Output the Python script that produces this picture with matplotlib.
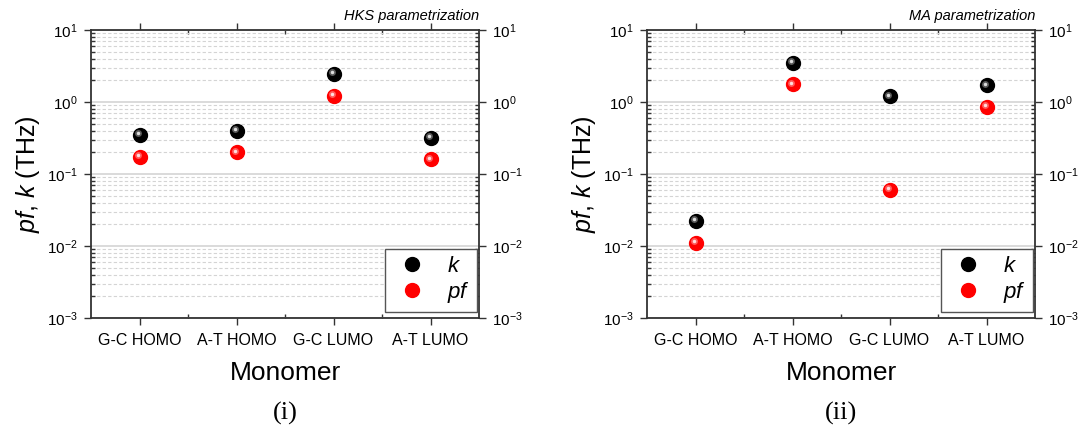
import numpy as np
import matplotlib
matplotlib.use("Agg")
from matplotlib import pyplot as plt
from matplotlib import ticker
from matplotlib.transforms import offset_copy

plt.rcParams['font.family'] = ['Liberation Sans', 'DejaVu Sans']
plt.rcParams['mathtext.fontset'] = 'custom'
plt.rcParams['mathtext.rm'] = 'Liberation Sans'
plt.rcParams['mathtext.it'] = 'Liberation Sans:italic'
plt.rcParams['axes.unicode_minus'] = False

# 数据
monomers = ['G-C HOMO', 'A-T HOMO', 'G-C LUMO', 'A-T LUMO']
hks_k = [0.35, 0.40, 2.45, 0.316]
hks_pf = [0.174, 0.20, 1.22, 0.16]
ma_k = [0.0222, 3.5, 1.2, 1.71]
ma_pf = [0.0111, 1.76, 0.06, 0.86]

titles = ['HKS parametrization', 'MA parametrization']
panel_tags = ['(i)', '(ii)']


def sphere(ax, x, y, color, label):
    # 球形点: 底色圆 + 左上角高光
    line, = ax.plot(x, y, ls='None', marker='o', ms=10, mfc=color, mec=color,
                    label=label, zorder=3)
    tr = offset_copy(ax.transData, fig=ax.figure, x=-1.2, y=1.2, units='points')
    ax.plot(x, y, ls='None', marker='o', ms=5, mfc='white', mec='none',
            alpha=0.35, transform=tr, zorder=4)
    ax.plot(x, y, ls='None', marker='o', ms=2.5, mfc='white', mec='none',
            alpha=0.8, transform=tr, zorder=5)
    return line


def plot_panel(ax, k, pf, title):
    """
    画一个面板
    :param k: k 值
    :param pf: pf 值
    """
    xs = np.arange(1, len(monomers) + 1)
    h1 = sphere(ax, xs, k, 'black', '$k$')
    h2 = sphere(ax, xs, pf, '#ff0000', '$pf$')

    ax.set_yscale('log')
    ax.set_ylim(1e-3, 1e1)
    ax.set_xlim(0.5, 4.5)
    ax.set_xticks(xs)
    ax.set_xticklabels(monomers, fontsize=11.5)
    ax.xaxis.set_minor_locator(ticker.FixedLocator([1.5, 2.5, 3.5]))
    ax.yaxis.set_major_locator(ticker.LogLocator(base=10, numticks=10))
    ax.yaxis.set_minor_locator(ticker.LogLocator(base=10, subs=np.arange(2, 10), numticks=20))
    ax.yaxis.set_major_formatter(ticker.LogFormatterSciNotation())
    ax.yaxis.set_minor_formatter(ticker.NullFormatter())

    ax.grid(True, which='major', axis='y', color='#d4d4d4', lw=1.2, ls='-')
    ax.grid(True, which='minor', axis='y', color='#d4d4d4', lw=0.8, ls=(0, (3, 2)))
    ax.set_axisbelow(True)

    ax.tick_params(which='major', direction='out', length=5, width=1, color='#333333',
                   top=True, right=True, labelright=True)
    ax.tick_params(axis='y', which='major', labelsize=11, pad=4.5)
    ax.tick_params(which='minor', direction='in', length=3, width=1, color='#333333',
                   top=True, right=True)
    ax.tick_params(axis='x', which='major', pad=6)
    for s in ax.spines.values():
        s.set_color('#333333')
        s.set_linewidth(1.3)

    ax.set_xlabel('Monomer', fontsize=19, labelpad=9)
    ax.set_ylabel('$pf$, $k$ (THz)', fontsize=18, labelpad=4)
    ax.text(1.0, 1.025, title, transform=ax.transAxes, ha='right', va='bottom',
            fontsize=10.5, style='italic')

    leg = ax.legend(handles=[h1, h2], loc='lower right', bbox_to_anchor=(0.995, 0.022),
                    fontsize=16, frameon=True,
                    fancybox=False, edgecolor='#555555', framealpha=1,
                    borderaxespad=0, handletextpad=0.7, labelspacing=0.15,
                    borderpad=0.3, handlelength=1.8)
    leg.get_frame().set_linewidth(1.0)


fig = plt.figure(figsize=(10.8, 4.3), dpi=100)
ax1 = fig.add_axes([91 / 1080, 1 - 318 / 430, 388 / 1080, 288 / 430])
ax2 = fig.add_axes([647 / 1080, 1 - 318 / 430, 388 / 1080, 288 / 430])

plot_panel(ax1, hks_k, hks_pf, titles[0])
plot_panel(ax2, ma_k, ma_pf, titles[1])

for ax, tag in zip([ax1, ax2], panel_tags):
    ax.text(0.5, -0.29, tag, transform=ax.transAxes, ha='center', va='top',
            fontsize=19, family=['Liberation Serif', 'DejaVu Serif'])

fig.savefig('out.png', dpi=100)
